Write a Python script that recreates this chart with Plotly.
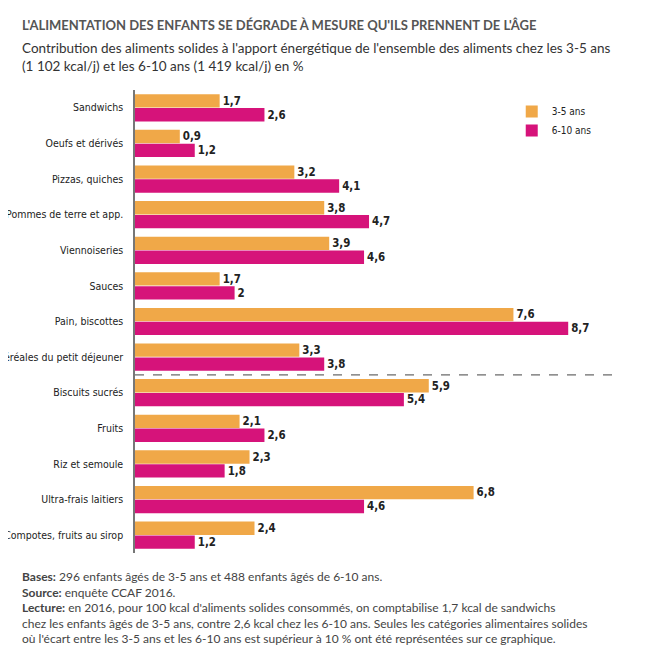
import plotly.graph_objects as go

categories = [
    "Sandwichs", "Oeufs et dérivés", "Pizzas, quiches", "Pommes de terre et app.",
    "Viennoiseries", "Sauces", "Pain, biscottes", "Céréales du petit déjeuner",
    "Biscuits sucrés", "Fruits", "Riz et semoule", "Ultra-frais laitiers",
    "Compotes, fruits au sirop",
]
ages_3_5 = [1.7, 0.9, 3.2, 3.8, 3.9, 1.7, 7.6, 3.3, 5.9, 2.1, 2.3, 6.8, 2.4]
ages_6_10 = [2.6, 1.2, 4.1, 4.7, 4.6, 2.0, 8.7, 3.8, 5.4, 2.6, 1.8, 4.6, 1.2]


def fr(v):
    return f"{v:g}".replace(".", ",")


cond = "DejaVu Sans Condensed, Liberation Sans Narrow, Roboto"
label_font = dict(family=cond, size=12, color="#222", weight="bold")

fig = go.Figure()
for name, vals, color in [("3-5 ans", ages_3_5, "#F0A848"), ("6-10 ans", ages_6_10, "#D6137A")]:
    fig.add_trace(go.Bar(
        y=categories, x=vals, name=name, orientation="h",
        marker=dict(color=color, line=dict(width=0)),
        text=[fr(v) for v in vals], textposition="outside",
        textfont=label_font, cliponaxis=False,
    ))

fig.add_shape(type="line", xref="x", yref="y", x0=0, x1=9.7, y0=7.5, y1=7.5,
              line=dict(color="#444", width=1, dash="dash"))

notes = (
    "<b>Bases:</b> 296 enfants âgés de 3-5 ans et 488 enfants âgés de 6-10 ans.<br>"
    "<b>Source:</b> enquête CCAF 2016.<br>"
    "<b>Lecture:</b> en 2016, pour 100 kcal d'aliments solides consommés, on comptabilise 1,7 kcal de sandwichs<br>"
    "chez les enfants âgés de 3-5 ans, contre 2,6 kcal chez les 6-10 ans. Seules les catégories alimentaires solides<br>"
    "où l'écart entre les 3-5 ans et les 6-10 ans est supérieur à 10 % ont été représentées sur ce graphique."
)

fig.update_layout(
    width=663, height=645,
    margin=dict(l=127, r=53, t=82, b=100, autoexpand=False),
    plot_bgcolor="white", paper_bgcolor="white",
    barmode="group", bargap=0.22, bargroupgap=0.04,
    font=dict(family="Lato, Open Sans", color="#333"),
    xaxis=dict(range=[0, 9.7], visible=False),
    yaxis=dict(autorange="reversed", showline=True, linecolor="#777", linewidth=1.5,
               ticks="", ticklabelstandoff=8, automargin=False,
               tickfont=dict(family=cond, size=10.5, color="#222")),
    legend=dict(x=0.78, y=0.985, xanchor="left", yanchor="top",
                font=dict(family=cond, size=10, color="#222"),
                tracegroupgap=10, itemwidth=30, bgcolor="rgba(0,0,0,0)"),
    showlegend=True,
)
fig.add_annotation(x=-115 / 483, y=1 + 75 / 463, xref="paper", yref="paper", xanchor="left", yanchor="top",
                   showarrow=False, align="left",
                   text="<b>L'ALIMENTATION DES ENFANTS SE DÉGRADE À MESURE QU'ILS PRENNENT DE L'ÂGE</b>",
                   font=dict(size=13, color="#555", family="Lato"))
fig.add_annotation(x=-115 / 483, y=1 + 52 / 463, xref="paper", yref="paper", xanchor="left", yanchor="top",
                   showarrow=False, align="left",
                   text="Contribution des aliments solides à l'apport énergétique de l'ensemble des aliments chez les 3-5 ans<br>"
                        "(1 102 kcal/j) et les 6-10 ans (1 419 kcal/j) en %",
                   font=dict(size=13.5, color="#333", family="Lato"))
fig.add_annotation(x=-115 / 483, y=-14 / 463, xref="paper", yref="paper", xanchor="left", yanchor="top",
                   showarrow=False, align="left", text=notes,
                   font=dict(size=12, color="#444", family="Lato"))

fig.write_html("out.html")
